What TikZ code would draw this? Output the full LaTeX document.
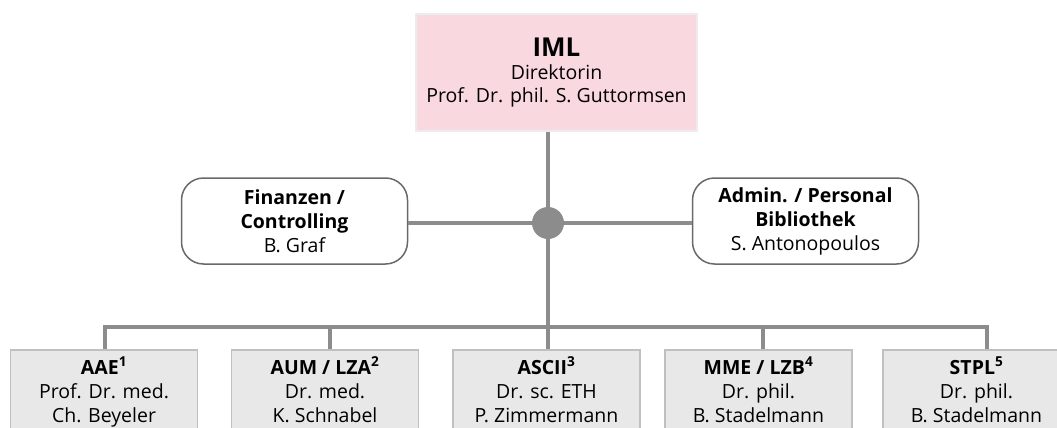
\documentclass[tikz,border=0pt]{standalone}
\usepackage{fontspec}
\setmainfont{Open Sans}
\usepackage{tikz}
\usetikzlibrary{positioning, shapes.geometric}

\definecolor{imlpink}{RGB}{249,216,224}
\definecolor{pinkline}{RGB}{236,236,236}
\definecolor{linegray}{RGB}{140,140,140}
\definecolor{staffline}{RGB}{105,105,105}
\definecolor{unitgray}{RGB}{232,232,232}
\definecolor{unitline}{RGB}{192,192,192}

\begin{document}
\begin{tikzpicture}[x = 1pt, y = -1pt,
                conn/.style = {draw = linegray, line width = 4pt},
                head/.style = {shape = rectangle, draw = pinkline, fill = imlpink, line width = 1.5pt,
                    minimum width = 281pt, minimum height = 117pt, align = center,
                    font = \fontsize{19.5}{22.5}\selectfont},
                staff/.style = {shape = rectangle, draw = staffline, fill = white, rounded corners = 22pt,
                    line width = 1.5pt, minimum width = 226pt, minimum height = 86pt, align = center,
                    font = \fontsize{19.5}{24}\selectfont},
                unit/.style = {shape = rectangle, draw = unitline, fill = unitgray, line width = 1.5pt,
                    minimum width = 187pt, anchor = north, inner ysep = 7pt, align = center,
                    font = \fontsize{19.5}{24}\selectfont}]
                \useasboundingbox (0, 0) rectangle (1057, 428);

                \node [head] (IML) at (556.5, 72.5) {{\fontsize{26}{28}\selectfont\bfseries IML}\\[1pt]
                    Direktorin\\ Prof. Dr. phil. S. Guttormsen};
                \node [shape = circle, fill = linegray, minimum size = 32pt, inner sep = 0pt] (hub) at (548, 223) {};
                \node [staff] (finance) at (294.5, 221) {\textbf{Finanzen /}\\ \textbf{Controlling}\\ B. Graf};
                \node [staff] (admin) at (805.5, 221) {\textbf{Admin. / Personal}\\ \textbf{Bibliothek}\\ S. Antonopoulos};

                \coordinate (busA) at (105, 327);
                \coordinate (busB) at (330, 327);
                \coordinate (busC) at (548, 327);
                \coordinate (busD) at (763, 327);
                \coordinate (busE) at (987, 327);

                \node [unit] (AAE) at (104, 349) {\textbf{AAE\textsuperscript{1}}\\ Prof. Dr. med.\\ Ch. Beyeler\\ \strut};
                \node [unit] (AUM) at (325, 349) {\textbf{AUM / LZA\textsuperscript{2}}\\ Dr. med.\\ K. Schnabel\\ \strut};
                \node [unit] (ASCII) at (546.5, 349) {\textbf{ASCII\textsuperscript{3}}\\ Dr. sc. ETH\\ P. Zimmermann\\ \strut};
                \node [unit] (MME) at (758.5, 349) {\textbf{MME / LZB\textsuperscript{4}}\\ Dr. phil.\\ B. Stadelmann\\ \strut};
                \node [unit] (STPL) at (976.5, 349) {\textbf{STPL\textsuperscript{5}}\\ Dr. phil.\\ B. Stadelmann\\ \strut};

                \draw [conn] (hub |- IML.south) -- (hub.north);
                \draw [conn] (finance.east |- hub) -- (hub.west);
                \draw [conn] (hub.east) -- (admin.west |- hub);
                \draw [conn] (hub.south) -- (busC);
                \draw [conn] (busA |- AAE.north) -- (busA) -- (busE) -- (busE |- STPL.north);
                \draw [conn] (busB) -- (busB |- AUM.north);
                \draw [conn] (busC) -- (busC |- ASCII.north);
                \draw [conn] (busD) -- (busD |- MME.north);
            \end{tikzpicture}
\end{document}
